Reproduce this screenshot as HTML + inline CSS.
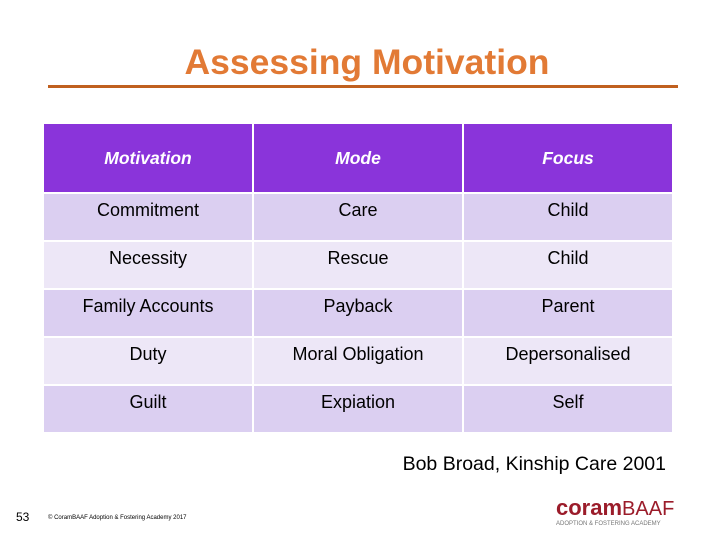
<!DOCTYPE html>
<html><head><meta charset="utf-8"><style>
body{margin:0;width:720px;height:540px;background:#fff;position:relative;overflow:hidden;font-family:"Liberation Sans",sans-serif}
.abs{position:absolute}
table{position:absolute;left:42px;top:122px;border-collapse:collapse}
td{border:2px solid #fff;padding:0;text-align:center;vertical-align:top;font-size:18px;color:#000;width:208px}
tr.h td{background:#8a34da;color:#fff;font-weight:bold;font-style:italic;vertical-align:middle;height:68px;font-size:17.5px}
tr.a td{background:#dbcff1;height:46px}
tr.b td{background:#ede7f7;height:46px}
td span{display:block;margin-top:6px}
</style></head><body>
<div class="abs" style="left:0;width:734px;top:42px;text-align:center;font-size:35.5px;font-weight:bold;color:#e27a35">Assessing Motivation</div>
<div class="abs" style="left:48px;top:85px;width:630px;height:3px;background:#c0601f"></div>
<table>
<tr class="h"><td>Motivation</td><td>Mode</td><td>Focus</td></tr>
<tr class="a"><td><span>Commitment</span></td><td><span>Care</span></td><td><span>Child</span></td></tr>
<tr class="b"><td><span>Necessity</span></td><td><span>Rescue</span></td><td><span>Child</span></td></tr>
<tr class="a"><td><span>Family Accounts</span></td><td><span>Payback</span></td><td><span>Parent</span></td></tr>
<tr class="b"><td><span>Duty</span></td><td><span>Moral Obligation</span></td><td><span>Depersonalised</span></td></tr>
<tr class="a"><td><span>Guilt</span></td><td><span>Expiation</span></td><td><span>Self</span></td></tr>
</table>
<div class="abs" style="right:54px;top:453px;font-size:19.5px">Bob Broad, Kinship Care 2001</div>
<div class="abs" style="left:16px;top:510px;font-size:12px">53</div>
<div class="abs" style="left:48px;top:515px;font-size:6px">© CoramBAAF Adoption &amp; Fostering Academy 2017</div>
<div class="abs" style="left:556px;top:497px;color:#9b1c2a;font-size:22px;line-height:22px"><b>coram</b><span style="font-size:20px">BAAF</span><div style="font-size:6px;line-height:8px;color:#777">ADOPTION &amp; FOSTERING ACADEMY</div></div>
</body></html>
